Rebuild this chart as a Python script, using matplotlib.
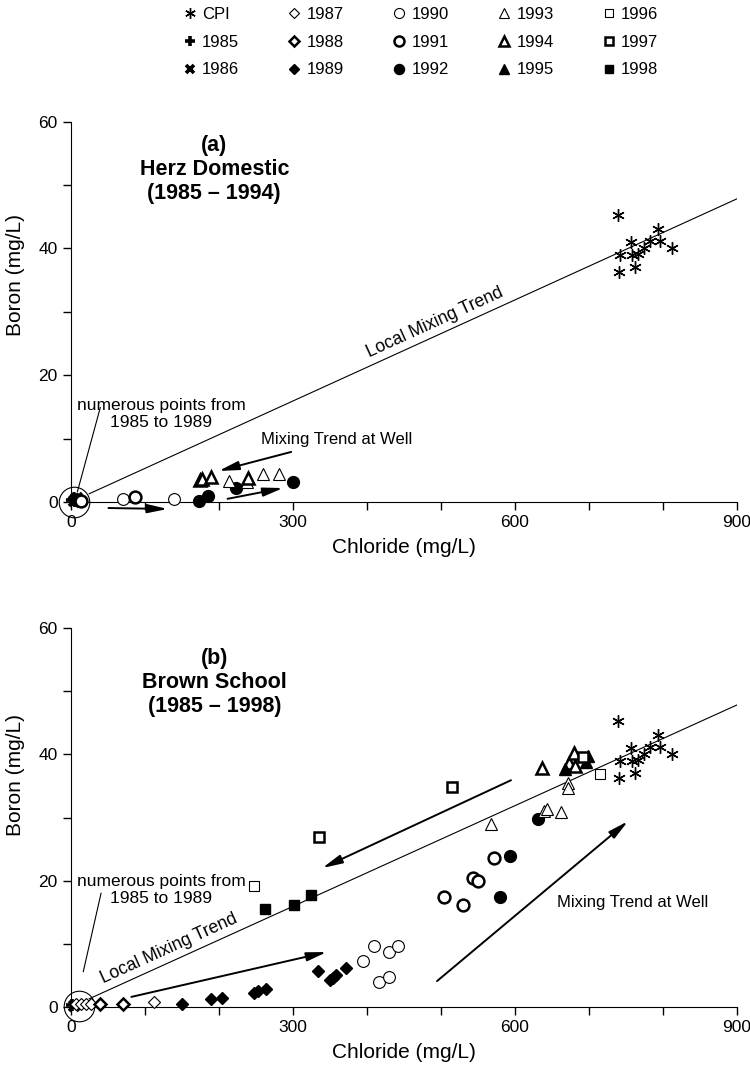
import numpy as np
import matplotlib
matplotlib.use("Agg")
import matplotlib.pyplot as plt
from matplotlib.lines import Line2D

plt.rcParams['font.family'] = ['Liberation Sans', 'DejaVu Sans']

# CPI samples (same in both panels)
cpi_cl = [740, 757, 742, 741, 763, 767, 759, 775, 783, 794, 796, 813]
cpi_b = [45.2, 41.0, 38.9, 36.2, 37.0, 39.1, 38.9, 40.0, 41.1, 43.1, 41.2, 40.0]

# local mixing trend line
trend_cl = [25, 900]
trend_b = [1.3, 47.8]

# (a) Herz Domestic 1985 - 1994
a_cl = {
    "1985": [2, 6], "1986": [4, 8], "1987": [6], "1988": [9],
    "1989": [5, 8], "1990": [70, 140], "1991": [14, 87],
    "1992": [174, 185, 223, 300],
    "1993": [214, 238, 260, 282], "1994": [175, 178, 190, 240],
}
a_b = {
    "1985": [0.3, 0.1], "1986": [0.2, 0.6], "1987": [0.4], "1988": [0.3],
    "1989": [0.6, 0.4], "1990": [0.5, 0.5], "1991": [0.2, 0.8],
    "1992": [0.1, 0.9, 2.2, 3.2],
    "1993": [3.3, 3.2, 4.4, 4.4], "1994": [3.5, 3.6, 3.9, 3.8],
}

# (b) Brown School 1985 - 1998
b_cl = {
    "1985": [2], "1986": [4],
    "1987": [7, 13.5, 20, 27, 113], "1988": [39, 70],
    "1989": [151, 189, 204, 248, 253, 264, 334, 350, 355, 359, 372],
    "1990": [395, 410, 417, 430, 430, 442],
    "1991": [505, 530, 544, 551, 572],
    "1992": [580, 593, 631],
    "1993": [568, 640, 643, 663, 672, 672],
    "1994": [637, 674, 682, 680],
    "1995": [668, 697, 699],
    "1996": [248, 715], "1997": [336, 515, 692],
    "1998": [262, 302, 325],
}
b_b = {
    "1985": [0.3], "1986": [0.2],
    "1987": [0.5, 0.5, 0.5, 0.5, 0.8], "1988": [0.5, 0.5],
    "1989": [0.5, 1.2, 1.5, 2.2, 2.6, 2.8, 5.7, 4.3, 4.6, 5.0, 6.2],
    "1990": [7.3, 9.7, 4.0, 4.8, 8.7, 9.7],
    "1991": [17.4, 16.2, 20.4, 19.9, 23.6],
    "1992": [17.4, 23.9, 29.7],
    "1993": [29.0, 31.0, 31.3, 30.9, 35.5, 34.6],
    "1994": [37.8, 38.6, 38.1, 40.2],
    "1995": [37.6, 38.8, 39.7],
    "1996": [19.1, 36.9], "1997": [26.9, 34.8, 39.6],
    "1998": [15.5, 16.1, 17.7],
}

# arrows: (tail, head)
a_arrows = [((298, 7.9), (200, 4.9)), ((51, -0.95), (131, -1.1)), ((212, 0.5), (287, 2.2))]
b_arrows = [((595, 35.9), (340, 22.0)), ((82, 1.6), (346, 8.7)), ((495, 4.1), (753, 29.4))]

STYLES = {
    "CPI": dict(marker=(6, 2, 0), ms=9, mew=1.0, mfc="none"),
    "1985": dict(marker="+", ms=9, mew=2.6),
    "1986": dict(marker="x", ms=7, mew=2.6),
    "1987": dict(marker="D", ms=6, mew=0.8, mfc="white"),
    "1988": dict(marker="D", ms=6, mew=1.8, mfc="white"),
    "1989": dict(marker="D", ms=6, mew=1.0, mfc="black"),
    "1990": dict(marker="o", ms=8.5, mew=0.8, mfc="white"),
    "1991": dict(marker="o", ms=8.5, mew=1.8, mfc="white"),
    "1992": dict(marker="o", ms=8.5, mew=1.0, mfc="black"),
    "1993": dict(marker="^", ms=9, mew=0.8, mfc="white"),
    "1994": dict(marker="^", ms=9, mew=1.8, mfc="white"),
    "1995": dict(marker="^", ms=9, mew=1.0, mfc="black"),
    "1996": dict(marker="s", ms=6.5, mew=0.8, mfc="white"),
    "1997": dict(marker="s", ms=6.5, mew=1.8, mfc="white"),
    "1998": dict(marker="s", ms=6.5, mew=1.0, mfc="black"),
}


def setup_axes(ax, label_y):
    ax.set_xlim(0, 900)
    ax.set_ylim(0, 60)
    for s in ["top", "right"]:
        ax.spines[s].set_visible(False)
    ax.set_xticks([0, 300, 600, 900])
    ax.set_xticks(range(0, 901, 100), minor=True)
    ax.set_yticks([0, 20, 40, 60])
    ax.set_yticks(range(0, 61, 10), minor=True)
    ax.tick_params(which="both", direction="out", length=6, width=1, labelsize=12.5)
    ax.set_xlabel("Chloride (mg/L)", fontsize=15)
    ax.set_ylabel("Boron (mg/L)", fontsize=15)
    ax.xaxis.set_label_coords(0.5, -0.094)
    ax.yaxis.set_label_coords(-0.0686, label_y)


def trend_label(ax, x, text):
    p1 = ax.transData.transform((trend_cl[0], trend_b[0]))
    p2 = ax.transData.transform((trend_cl[1], trend_b[1]))
    ang = np.degrees(np.arctan2(p2[1] - p1[1], p2[0] - p1[0]))
    y = trend_b[0] + (x - trend_cl[0]) * (trend_b[1] - trend_b[0]) / (trend_cl[1] - trend_cl[0])
    d = 3
    ax.annotate(text, (x, y), xytext=(-d * np.sin(np.radians(ang)), d * np.cos(np.radians(ang))),
                textcoords="offset points", rotation=ang, rotation_mode="anchor",
                ha="center", va="bottom", fontsize=12.7)


def draw_panel(ax, cl, b, arrows, circle_xy, leader, note_y, title, title_xy, well_xy, trend_x, label_y):
    setup_axes(ax, label_y)
    ax.plot(trend_cl, trend_b, color="black", lw=0.8, zorder=1)
    ax.plot(*circle_xy, marker="o", ms=22, mfc="none", mec="black", mew=0.8, clip_on=False, zorder=2)
    ax.plot(leader[0], leader[1], color="black", lw=0.8, clip_on=False)
    ax.plot(cpi_cl, cpi_b, ls="none", color="black", clip_on=False, zorder=3, **STYLES["CPI"])
    for yr in cl:
        ax.plot(cl[yr], b[yr], ls="none", color="black", clip_on=False, zorder=3, **STYLES[yr])
    for tail, head in arrows:
        ax.annotate("", xy=head, xytext=tail, annotation_clip=False,
                    arrowprops=dict(arrowstyle="-|>,head_length=1.0,head_width=0.22", color="black",
                                    lw=1.4, mutation_scale=12, shrinkA=0, shrinkB=0))
    ax.text(title_xy[0], title_xy[1], title, ha="center", va="center", fontsize=15.5,
            fontweight="bold", linespacing=1.2)
    ax.text(122, note_y, "numerous points from\n1985 to 1989", ha="center", va="center",
            fontsize=12.5, linespacing=1.2)
    ax.text(well_xy[0], well_xy[1], "Mixing Trend at Well", ha="center", va="center", fontsize=12)
    trend_label(ax, trend_x, "Local Mixing Trend")


def main():
    fig = plt.figure(figsize=(7.5, 10.67), dpi=100)
    ax_a = fig.add_axes([70.7 / 750, 1 - 502 / 1067, 666 / 750, 380.4 / 1067])
    ax_b = fig.add_axes([70.7 / 750, 1 - 1007 / 1067, 666 / 750, 379 / 1067])

    draw_panel(ax_a, a_cl, a_b, a_arrows, (4, 0.05), ([40, 9], [14.9, 1.6]), 13.9,
               "(a)\nHerz Domestic\n(1985 \u2013 1994)", (194, 52.4), (360, 9.8), 500, 0.597)
    draw_panel(ax_b, b_cl, b_b, b_arrows, (11, 0.1), ([41, 17], [18.0, 5.6]), 18.5,
               "(b)\nBrown School\n(1985 \u2013 1998)", (194, 51.4), (760, 16.6), 140, 0.612)

    order = ["CPI", "1985", "1986", "1987", "1988", "1989", "1990", "1991", "1992",
             "1993", "1994", "1995", "1996", "1997", "1998"]
    handles = [Line2D([], [], ls="none", color="black", **STYLES[k]) for k in order]
    fig.legend(handles, order, ncol=5, loc="upper left", bbox_to_anchor=(183 / 750, 1 - 7 / 1067),
               frameon=False, fontsize=12, handlelength=0.8, handletextpad=0.35,
               columnspacing=2.9, labelspacing=0.76, markerscale=0.85, borderpad=0, borderaxespad=0)

    fig.savefig("out.png", dpi=100)


if __name__ == "__main__":
    main()
